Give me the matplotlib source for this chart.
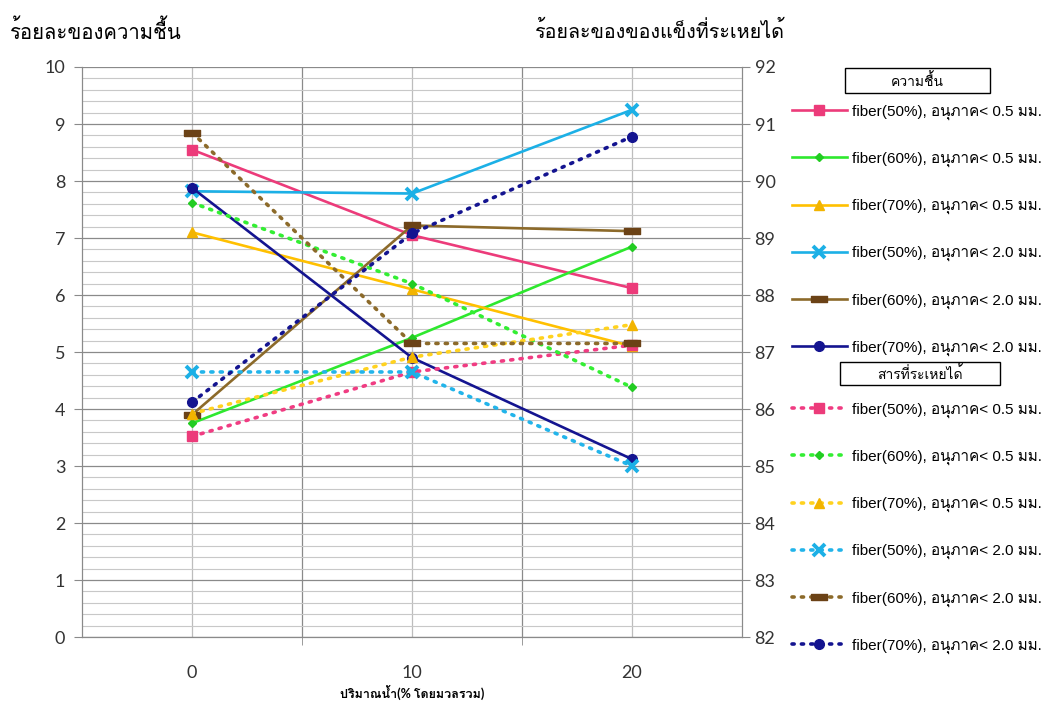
import matplotlib
matplotlib.use("Agg")
import matplotlib.pyplot as plt
from matplotlib import font_manager as fm
from matplotlib.ft2font import FT2Font
from matplotlib.patches import Rectangle

# water content (% by total mass)
water = [0, 10, 20]

# moisture (%), left axis
moist_f50_05 = [8.55, 7.05, 6.12]
moist_f60_05 = [3.75, 5.25, 6.85]
moist_f70_05 = [7.10, 6.10, 5.10]
moist_f50_20 = [7.82, 7.78, 9.25]
moist_f60_20 = [3.90, 7.22, 7.12]
moist_f70_20 = [7.88, 4.90, 3.12]

# volatile solids (%), right axis
vol_f50_05 = [85.52, 86.65, 87.12]
vol_f60_05 = [89.62, 88.20, 86.38]
vol_f70_05 = [85.92, 86.91, 87.48]
vol_f50_20 = [86.65, 86.65, 85.00]
vol_f60_20 = [90.85, 87.15, 87.15]
vol_f70_20 = [86.12, 89.08, 90.78]

labels = ["fiber(50%), อนุภาค< 0.5 มม.", "fiber(60%), อนุภาค< 0.5 มม.",
          "fiber(70%), อนุภาค< 0.5 มม.", "fiber(50%), อนุภาค< 2.0 มม.",
          "fiber(60%), อนุภาค< 2.0 มม.", "fiber(70%), อนุภาค< 2.0 มม."]


# find an installed font that has Thai glyphs
def thai_font():
    for f in fm.fontManager.ttflist:
        try:
            if ord('ร') in FT2Font(f.fname).get_charmap():
                return f.name
        except Exception:
            pass
    return 'DejaVu Sans'


thai = thai_font()
plt.rcParams['font.family'] = ['Lato', thai, 'DejaVu Sans']

bar = [(-1, -0.35), (1, -0.35), (1, 0.35), (-1, 0.35), (-1, -0.35)]
styles = [
    dict(color='#EC3B7A', marker='s', ms=7, mec='#EC3B7A', mfc='#EC3B7A'),
    dict(color='#2EE82E', marker='D', ms=4, mec='#22CC22', mfc='#22CC22'),
    dict(color='#FFC000', marker='^', ms=7, mec='#F2B400', mfc='#F2B400'),
    dict(color='#1CB0E6', marker='x', ms=8, mew=2.8, mec='#1CB0E6'),
    dict(color='#8C6A2A', marker=bar, ms=11, mec='#6B4216', mfc='#6B4216'),
    dict(color='#141490', marker='o', ms=7, mec='#141490', mfc='#141490'),
]
dot_colors = ['#F03C82', '#33EE33', '#FFD21F', '#22B4EA', '#8C6A2A', '#141490']

fig = plt.figure(figsize=(10.53, 7.06), dpi=100)
ax = fig.add_axes([0.0779, 0.0977, 0.6268, 0.8074])
ax2 = ax.twinx()

solid = []
for y, st in zip([moist_f50_05, moist_f60_05, moist_f70_05,
                  moist_f50_20, moist_f60_20, moist_f70_20], styles):
    ln, = ax.plot(water, y, lw=1.9, zorder=3, **st)
    solid.append(ln)

dotted = []
for y, st, c in zip([vol_f50_05, vol_f60_05, vol_f70_05,
                     vol_f50_20, vol_f60_20, vol_f70_20], styles, dot_colors):
    s = dict(st)
    s['color'] = c
    ln, = ax2.plot(water, y, lw=2.6, ls=(0, (0.6, 2.0)), dash_capstyle='round',
                   zorder=3, **s)
    dotted.append(ln)

ax.set_xlim(-5, 25)
ax.set_ylim(0, 10)
ax2.set_ylim(82, 92)
ax.set_xticks(water)
ax.set_xticks([5, 15], minor=True)
ax.set_yticks(range(0, 11))
ax.set_yticks([i / 5 for i in range(51)], minor=True)
ax2.set_yticks(range(82, 93))
ax2.set_yticks([], minor=True)

ax.grid(which='minor', axis='y', color='#C8C8C8', lw=0.8)
ax.grid(which='major', axis='y', color='#8A8A8A', lw=0.9)
ax.grid(which='minor', axis='x', color='#8A8A8A', lw=0.9)
ax.grid(which='major', axis='x', color='#BDBDBD', lw=0.9)
ax.set_axisbelow(True)

for a in (ax, ax2):
    for sp in a.spines.values():
        sp.set_color('#8A8A8A')
    a.spines['top'].set_visible(False)

ax.tick_params(axis='x', which='major', length=0, pad=20, labelsize=13, labelcolor='#333333')
ax.tick_params(axis='x', which='minor', length=6, color='#8A8A8A')
ax.tick_params(axis='y', which='major', length=6, color='#8A8A8A', labelsize=13,
               labelcolor='#333333', pad=6)
ax.tick_params(axis='y', which='minor', length=0)
ax2.tick_params(axis='y', length=6, color='#8A8A8A', labelsize=13, labelcolor='#333333', pad=3)

ax.set_xlabel("ปริมาณน้ำ(% โดยมวลรวม)", fontsize=9, fontweight='bold', labelpad=3)

fig.text(0.0095, 0.957, "ร้อยละของความชื้น", fontsize=14.6, va='center', ha='left')
fig.text(0.508, 0.957, "ร้อยละของของแข็งที่ระเหยได้", fontsize=14.2, va='center', ha='left')

# boxed legend headers
fig.add_artist(Rectangle((0.8025, 0.868), 0.1375, 0.036, transform=fig.transFigure,
                         fc='white', ec='black', lw=1))
fig.text(0.871, 0.886, "ความชื้น", fontsize=10, ha='center', va='center')
fig.add_artist(Rectangle((0.798, 0.4547), 0.152, 0.0326, transform=fig.transFigure,
                         fc='white', ec='black', lw=1))
fig.text(0.874, 0.471, "สารที่ระเหยได้", fontsize=10, ha='center', va='center')

leg_kw = dict(frameon=False, handlelength=3.6, handletextpad=0.33,
              labelspacing=2.1, borderpad=0, borderaxespad=0, loc='upper left',
              prop=dict(family=['Liberation Sans', thai], size=11))
fig.legend(solid, labels, bbox_to_anchor=(0.752, 0.852), **leg_kw)
fig.legend(dotted, labels, bbox_to_anchor=(0.752, 0.430), **leg_kw)

fig.savefig("out.png", dpi=100)
